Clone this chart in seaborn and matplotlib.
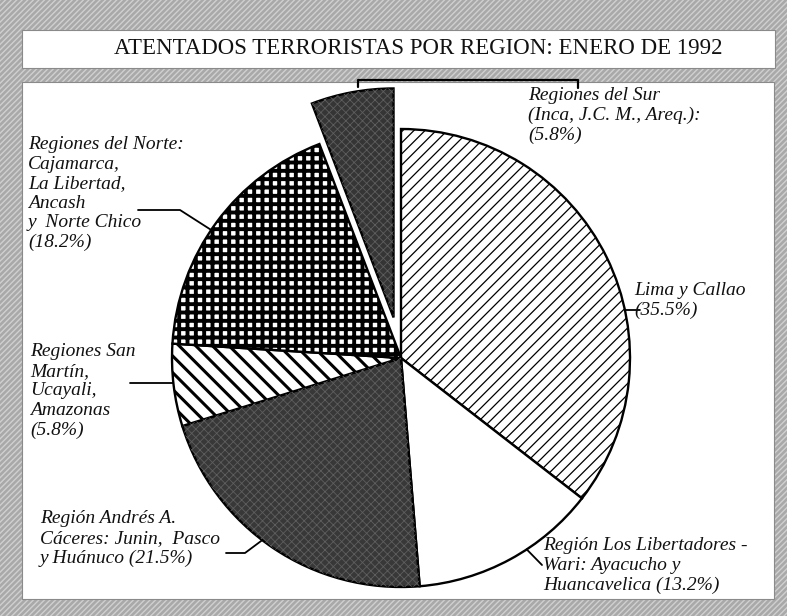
#Atentados terroristas por region, enero de 1992
#Grafico de torta con tramas en blanco y negro

#Importar librerías
import numpy as np
import matplotlib
matplotlib.use('Agg')
import matplotlib.pyplot as plt
from matplotlib.patches import Rectangle, Wedge
import seaborn as sns

#datos del grafico
regiones = ['Lima y Callao',
            'Región Los Libertadores -\nWari: Ayacucho y\nHuancavelica',
            'Región Andrés A.\nCáceres: Junin,  Pasco\ny Huánuco',
            'Regiones San\nMartín,\nUcayali,\nAmazonas',
            'Regiones del Norte:\nCajamarca,\nLa Libertad,\nAncash\ny  Norte Chico',
            'Regiones del Sur\n(Inca, J.C. M., Areq.):']
porcentajes = [35.5, 13.2, 21.5, 5.8, 18.2, 5.8]
separar = [0, 0, 0, 0, 0, 0.18]

titulo = 'ATENTADOS TERRORISTAS POR REGION: ENERO DE 1992'

#estilo de cada tajada
colores = ['white', 'white', '#383838', 'white', 'white', '#353535']
tramas = ['///', None, None, '\\\\', '++', None]
grosor_trama = [0.9, 1.0, 1.0, 2.2, 2.8, 1.0]

sns.set_theme(style='white')
plt.rcParams['font.family'] = ['Liberation Serif', 'DejaVu Serif']
plt.rcParams['hatch.linewidth'] = 1.0

W, H = 787, 616
fig = plt.figure(figsize=(W / 100, H / 100), dpi=100)
ax = fig.add_axes([0, 0, 1, 1])

#fondo gris con textura y recuadros blancos
ax.add_patch(Rectangle((0, 0), W, H, facecolor='#a9a9a9', edgecolor='#d0d0d0',
                       hatch='//////', lw=0, zorder=0))
ax.add_patch(Rectangle((22, 30), 753, 38, facecolor='white', edgecolor='#8a8a8a',
                       lw=0.8, zorder=1))
ax.add_patch(Rectangle((22, 82), 752, 517, facecolor='white', edgecolor='#8a8a8a',
                       lw=0.8, zorder=1))

ax.text(418, 49, titulo, ha='center', va='center', fontsize=16.5, color='#111111',
        zorder=5)

#torta (eje y invertido: sentido horario desde las 12)
cx, cy, r = 401, 358, 229
wedges, _ = ax.pie(porcentajes, explode=[s * r for s in separar], colors=colores,
                   startangle=-90, counterclock=True, center=(cx, cy), radius=r,
                   wedgeprops=dict(edgecolor='black', linewidth=1.7))
for w, t, g, c in zip(wedges, tramas, grosor_trama, colores):
    w.set_zorder(3)
    if t:
        w.set_hatch(t)
        if hasattr(w, 'set_hatch_linewidth'):
            w.set_hatch_linewidth(g)
    if c != 'white':
        #textura moteada de las tajadas oscuras
        tex = Wedge(w.center, w.r, w.theta1, w.theta2, facecolor='none',
                    edgecolor='#5e5e5e', hatch='xxxx', lw=0, zorder=3.5)
        if hasattr(tex, 'set_hatch_linewidth'):
            tex.set_hatch_linewidth(0.6)
        ax.add_patch(tex)

def borde(ang):
    #punto sobre el borde de la torta, angulo en grados (antihorario desde las 3)
    a = np.radians(ang)
    return cx + r * np.cos(a), cy - r * np.sin(a)

#etiquetas
textos = [f'{n} ({p}%)' if i in (1, 2) else f'{n}\n({p}%)'
          for i, (n, p) in enumerate(zip(regiones, porcentajes))]
pos_texto = [(634, 282), (543, 537), (40, 510), (30, 343), (28, 136), (528, 87)]
for txt, (x, y) in zip(textos, pos_texto):
    ax.text(x, y, txt, ha='left', va='top', fontsize=14, style='italic',
            linespacing=1.2, color='#111111', zorder=5)

#lineas guia
lw = 1.3
x0, y0 = borde(12)
ax.plot([x0, 640], [y0, y0], color='black', lw=lw, zorder=4)
x0, y0 = borde(-56.7)
ax.plot([x0, 542], [y0, 565], color='black', lw=lw, zorder=4)
x0, y0 = borde(-127.3)
ax.plot([x0, 245, 226], [y0, 553, 553], color='black', lw=lw, zorder=4)
x0, y0 = borde(186.3)
ax.plot([x0, 130], [y0, y0], color='black', lw=lw, zorder=4)
x0, y0 = borde(146)
ax.plot([x0, 180, 138], [y0, 210, 210], color='black', lw=lw, zorder=4)
ax.plot([358, 358, 578, 578], [87, 80, 80, 88], color='black', lw=1.6, zorder=4)

ax.set_xlim(0, W)
ax.set_ylim(H, 0)
ax.set_aspect('equal')
ax.axis('off')

fig.savefig('out.png', dpi=100)
